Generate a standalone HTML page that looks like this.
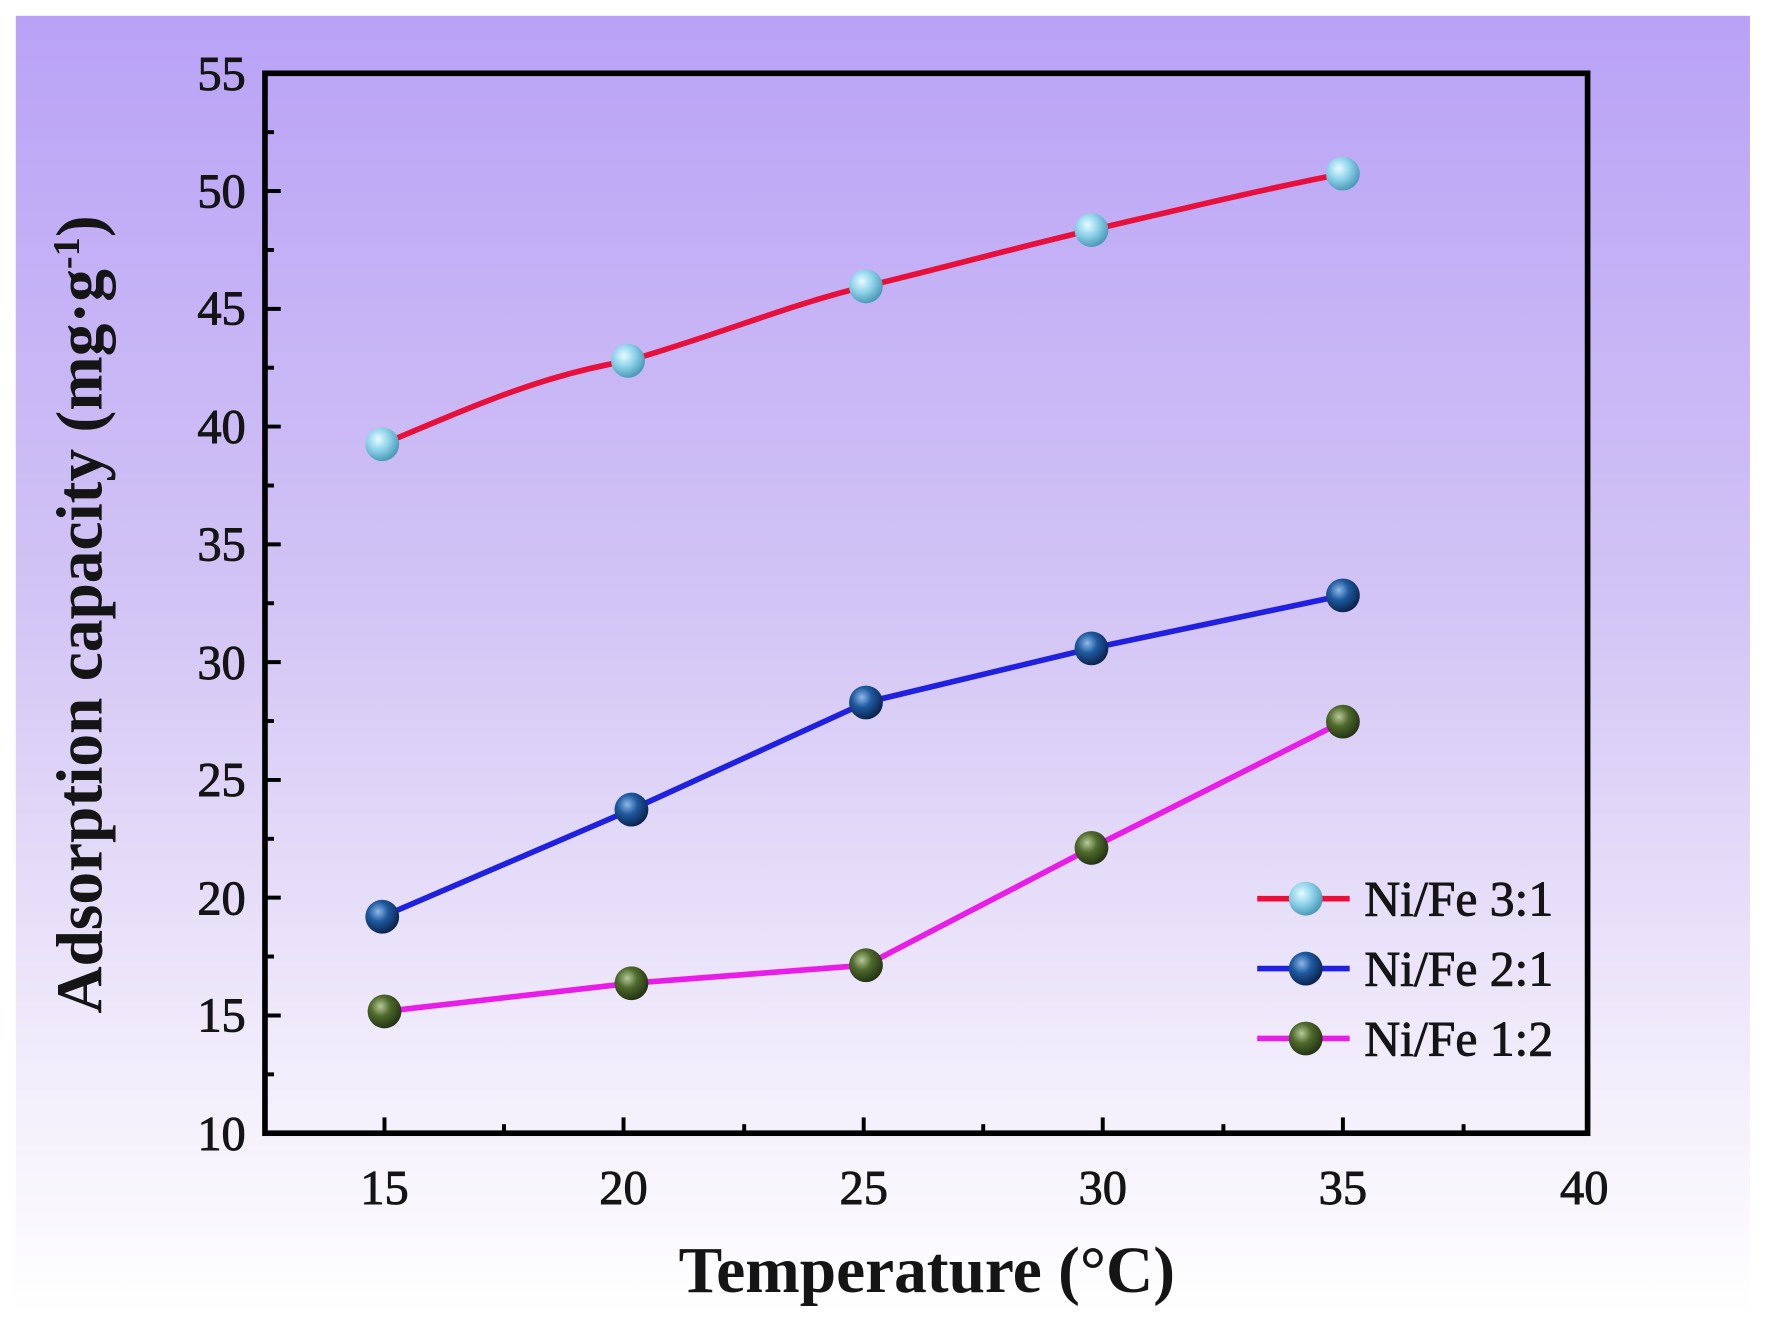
<!DOCTYPE html>
<html><head><meta charset="utf-8"><style>html,body{margin:0;padding:0;background:#fff}svg{display:block}</style></head>
<body>
<svg width="1768" height="1332" viewBox="0 0 1568 1181.3" preserveAspectRatio="none" xmlns="http://www.w3.org/2000/svg">
<defs>
<linearGradient id="bg" x1="0" y1="0" x2="0" y2="1">
<stop offset="0" stop-color="#b9a2f6"/>
<stop offset="0.45" stop-color="#d2c4f5"/>
<stop offset="0.8" stop-color="#f1ecfb"/>
<stop offset="1" stop-color="#ffffff"/>
</linearGradient>
<radialGradient id="gc" cx="0.38" cy="0.35" r="0.65"><stop offset="0" stop-color="#e6fbff"/><stop offset="0.5" stop-color="#8fd3ea"/><stop offset="1" stop-color="#4d9bb8"/></radialGradient>
<radialGradient id="gb" cx="0.38" cy="0.35" r="0.65"><stop offset="0" stop-color="#8fb8e6"/><stop offset="0.45" stop-color="#1f5aa0"/><stop offset="1" stop-color="#0b2550"/></radialGradient>
<radialGradient id="gg" cx="0.38" cy="0.35" r="0.65"><stop offset="0" stop-color="#b7c99a"/><stop offset="0.45" stop-color="#4f6a2c"/><stop offset="1" stop-color="#253514"/></radialGradient>
</defs>
<rect x="14" y="14" width="1538" height="1152" fill="url(#bg)"/>
<g font-family="Liberation Serif, serif" fill="#151515" stroke="#151515" stroke-width="0.8">
<rect x="235" y="65" width="1173" height="940" fill="none" stroke="#000" stroke-width="5"/>
<g stroke="#000" stroke-width="3.5">
<line x1="235" y1="900.6" x2="249" y2="900.6"/><line x1="235" y1="796.1" x2="249" y2="796.1"/><line x1="235" y1="691.7" x2="249" y2="691.7"/><line x1="235" y1="587.2" x2="249" y2="587.2"/><line x1="235" y1="482.8" x2="249" y2="482.8"/><line x1="235" y1="378.3" x2="249" y2="378.3"/><line x1="235" y1="273.9" x2="249" y2="273.9"/><line x1="235" y1="169.4" x2="249" y2="169.4"/>
<line x1="235" y1="952.8" x2="243" y2="952.8"/><line x1="235" y1="848.3" x2="243" y2="848.3"/><line x1="235" y1="743.9" x2="243" y2="743.9"/><line x1="235" y1="639.4" x2="243" y2="639.4"/><line x1="235" y1="535" x2="243" y2="535"/><line x1="235" y1="430.6" x2="243" y2="430.6"/><line x1="235" y1="326.1" x2="243" y2="326.1"/><line x1="235" y1="221.7" x2="243" y2="221.7"/><line x1="235" y1="117.2" x2="243" y2="117.2"/>
<line x1="341" y1="1005" x2="341" y2="991"/><line x1="553" y1="1005" x2="553" y2="991"/><line x1="766" y1="1005" x2="766" y2="991"/><line x1="978" y1="1005" x2="978" y2="991"/><line x1="1191" y1="1005" x2="1191" y2="991"/>
<line x1="447" y1="1005" x2="447" y2="997"/><line x1="660" y1="1005" x2="660" y2="997"/><line x1="872" y1="1005" x2="872" y2="997"/><line x1="1085" y1="1005" x2="1085" y2="997"/><line x1="1298" y1="1005" x2="1298" y2="997"/>
</g>
<g font-size="43" text-anchor="end">
<text x="218" y="1020">10</text><text x="218" y="915">15</text><text x="218" y="811">20</text><text x="218" y="706">25</text><text x="218" y="602">30</text><text x="218" y="497">35</text><text x="218" y="393">40</text><text x="218" y="288">45</text><text x="218" y="184">50</text><text x="218" y="80">55</text>
</g>
<g font-size="43" text-anchor="middle">
<text x="341" y="1068">15</text><text x="553" y="1068">20</text><text x="766" y="1068">25</text><text x="978" y="1068">30</text><text x="1191" y="1068">35</text><text x="1405" y="1068">40</text>
</g>
<text x="822" y="1146" font-size="58" font-weight="bold" stroke-width="0" text-anchor="middle">Temperature (°C)</text>
<text transform="translate(90,545) rotate(-90)" font-size="58" font-weight="bold" stroke-width="0" text-anchor="middle">Adsorption capacity (mg·g<tspan dy="-20" font-size="34">-1</tspan><tspan dy="20">)</tspan></text>
<g stroke-width="0">
<path d="M339,394 C420,360 480,333 557,320 C640,296 700,270 768,254 C850,234 900,220 968,204 C1050,185 1110,170 1191,154" fill="none" stroke="#e8103a" stroke-width="5"/>
<polyline points="339,813 560,718 768,623 968,575 1191,528" fill="none" stroke="#2020e0" stroke-width="5"/>
<polyline points="341,897 560,872 768,856 968,752 1191,640" fill="none" stroke="#e81ee8" stroke-width="5"/>
<g fill="url(#gc)"><circle cx="339" cy="394" r="15"/><circle cx="557" cy="320" r="15"/><circle cx="768" cy="254" r="15"/><circle cx="968" cy="204" r="15"/><circle cx="1191" cy="154" r="15"/></g>
<g fill="url(#gb)"><circle cx="339" cy="813" r="15"/><circle cx="560" cy="718" r="15"/><circle cx="768" cy="623" r="15"/><circle cx="968" cy="575" r="15"/><circle cx="1191" cy="528" r="15"/></g>
<g fill="url(#gg)"><circle cx="341" cy="897" r="15"/><circle cx="560" cy="872" r="15"/><circle cx="768" cy="856" r="15"/><circle cx="968" cy="752" r="15"/><circle cx="1191" cy="640" r="15"/></g>
<line x1="1115" y1="797" x2="1197" y2="797" stroke="#e8103a" stroke-width="5"/><circle cx="1158" cy="797" r="15" fill="url(#gc)"/>
<line x1="1115" y1="859" x2="1197" y2="859" stroke="#2020e0" stroke-width="5"/><circle cx="1158" cy="859" r="15" fill="url(#gb)"/>
<line x1="1115" y1="921" x2="1197" y2="921" stroke="#e81ee8" stroke-width="5"/><circle cx="1158" cy="921" r="15" fill="url(#gg)"/>
</g>
<g font-size="44"><text x="1210" y="812">Ni/Fe 3:1</text><text x="1210" y="874">Ni/Fe 2:1</text><text x="1210" y="936">Ni/Fe 1:2</text></g>
</g>
</svg>
</body></html>
